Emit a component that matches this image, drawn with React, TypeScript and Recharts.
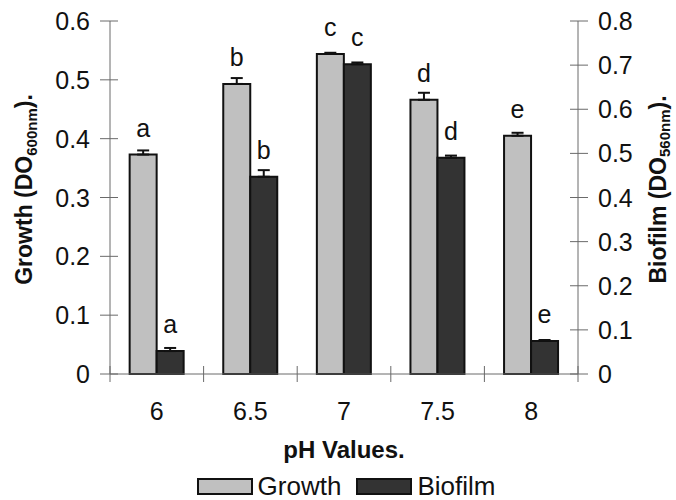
import React from 'react';
import {
  BarChart,
  Bar,
  XAxis,
  YAxis,
  ErrorBar,
  LabelList,
  Legend,
} from 'recharts';

const phValues = ['6', '6.5', '7', '7.5', '8'];
const growth = [0.373, 0.493, 0.544, 0.466, 0.405];
const growthErr = [0.007, 0.01, 0.002, 0.012, 0.005];
const biofilm = [0.052, 0.447, 0.702, 0.49, 0.075];
const biofilmErr = [0.007, 0.015, 0.004, 0.005, 0.002];
const growthLetters = ['a', 'b', 'c', 'd', 'e'];
const biofilmLetters = ['a', 'b', 'c', 'd', 'e'];
const leftTicks = [0, 0.1, 0.2, 0.3, 0.4, 0.5, 0.6];
const rightTicks = [0, 0.1, 0.2, 0.3, 0.4, 0.5, 0.6, 0.7, 0.8];

const FONT = '"Liberation Sans", Arial, sans-serif';
const AXIS = '#6a6a6a';
const GROWTH_FILL = '#c0c0c0';
const BIOFILM_FILL = '#333333';

const chartData = phValues.map((ph, i) => ({
  ph,
  growth: growth[i],
  growthErr: [0, growthErr[i]],
  growthLetter: growthLetters[i],
  biofilm: biofilm[i],
  biofilmErr: [0, biofilmErr[i]],
  biofilmLetter: biofilmLetters[i],
}));

// y ticks cross the axis line, so draw them ourselves
const LeftTick = (props: any) => {
  const { x, y, payload } = props;
  return (
    <g>
      <line x1={x + 10} x2={x + 28} y1={y} y2={y} stroke={AXIS} />
      <text x={x} y={y} dy={9} textAnchor="end" fontSize={25} fontFamily={FONT} fill="#111">
        {payload.value}
      </text>
    </g>
  );
};

const RightTick = (props: any) => {
  const { x, y, payload } = props;
  return (
    <g>
      <line x1={x - 28} x2={x - 10} y1={y} y2={y} stroke={AXIS} />
      <text x={x} y={y} dy={9} textAnchor="start" fontSize={25} fontFamily={FONT} fill="#111">
        {payload.value}
      </text>
    </g>
  );
};

// category labels, with the tick marks sitting on the band edges
const CatTick = (props: any) => {
  const { x, y, payload, index, visibleTicksCount } = props;
  const half = payload.offset || 0;
  const axisY = y - 28;
  return (
    <g>
      <line x1={x - half} x2={x - half} y1={axisY - 8} y2={axisY + 8} stroke={AXIS} />
      {index === visibleTicksCount - 1 && (
        <line x1={x + half} x2={x + half} y1={axisY - 8} y2={axisY + 8} stroke={AXIS} />
      )}
      <text x={x} y={y} dy={18} textAnchor="middle" fontSize={25} fontFamily={FONT} fill="#111">
        {payload.value}
      </text>
    </g>
  );
};

const LeftTitle = (props: any) => {
  const { viewBox } = props;
  const cx = viewBox.x - 16;
  const cy = viewBox.y + viewBox.height / 2 - 8;
  return (
    <text
      x={cx}
      y={cy}
      dy="0.35em"
      textAnchor="middle"
      transform={`rotate(-90, ${cx}, ${cy})`}
      fontSize={23}
      fontWeight="bold"
      fontFamily={FONT}
      fill="#111"
    >
      Growth (DO
      <tspan fontSize={15} dy={5}>600nm</tspan>
      <tspan dy={-5}>).</tspan>
    </text>
  );
};

const RightTitle = (props: any) => {
  const { viewBox } = props;
  const cx = viewBox.x + 80;
  const cy = viewBox.y + viewBox.height / 2 - 8;
  return (
    <text
      x={cx}
      y={cy}
      dy="0.35em"
      textAnchor="middle"
      transform={`rotate(-90, ${cx}, ${cy})`}
      fontSize={23}
      fontWeight="bold"
      fontFamily={FONT}
      fill="#111"
    >
      Biofilm (DO
      <tspan fontSize={15} dy={4}>560nm</tspan>
      <tspan dy={-4}>).</tspan>
    </text>
  );
};

const BottomTitle = (props: any) => {
  const { viewBox } = props;
  return (
    <text
      x={viewBox.x + viewBox.width / 2}
      y={458}
      textAnchor="middle"
      fontSize={24}
      fontWeight="bold"
      fontFamily={FONT}
      fill="#111"
    >
      pH Values.
    </text>
  );
};

const LegendContent = () => {
  const items = [
    { name: 'Growth', color: GROWTH_FILL },
    { name: 'Biofilm', color: BIOFILM_FILL },
  ];
  return (
    <div
      style={{
        display: 'flex',
        justifyContent: 'center',
        alignItems: 'center',
        paddingLeft: 14,
        fontFamily: FONT,
        fontSize: 26,
        color: '#111',
        height: 24,
      }}
    >
      {items.map((it, i) => (
        <div key={it.name} style={{ display: 'flex', alignItems: 'center', marginLeft: i ? 15 : 0 }}>
          <span
            style={{
              display: 'inline-block',
              width: 52,
              height: 13,
              background: it.color,
              border: '2px solid #111',
              marginRight: 5,
            }}
          />
          <span style={{ lineHeight: '24px' }}>{it.name}</span>
        </div>
      ))}
    </div>
  );
};

export default function App() {
  return (
    <div style={{ position: 'absolute', left: 0, top: 0, width: 676, height: 500, background: '#fff' }}>
      <BarChart
        width={676}
        height={500}
        data={chartData}
        margin={{ top: 21, right: 38, bottom: 2, left: 40 }}
        barCategoryGap="21%"
        barGap={0}
      >
        <XAxis
          xAxisId="cat"
          dataKey="ph"
          height={100}
          axisLine={{ stroke: AXIS }}
          tickLine={false}
          tickSize={0}
          tickMargin={28}
          interval={0}
          tick={<CatTick />}
          label={<BottomTitle />}
        />
        <XAxis
          xAxisId="top"
          orientation="top"
          dataKey="ph"
          height={0}
          tick={false}
          tickLine={false}
          axisLine={{ stroke: AXIS }}
        />
        <YAxis
          yAxisId="left"
          domain={[0, 0.6]}
          ticks={leftTicks}
          width={70}
          tickSize={10}
          tickMargin={10}
          tickLine={false}
          tick={<LeftTick />}
          axisLine={{ stroke: AXIS }}
          label={<LeftTitle />}
        />
        <YAxis
          yAxisId="right"
          orientation="right"
          domain={[0, 0.8]}
          ticks={rightTicks}
          width={60}
          tickSize={10}
          tickMargin={10}
          tickLine={false}
          tick={<RightTick />}
          axisLine={{ stroke: AXIS }}
          label={<RightTitle />}
        />
        <Legend verticalAlign="bottom" content={<LegendContent />} />
        <Bar
          xAxisId="cat"
          yAxisId="left"
          dataKey="growth"
          name="Growth"
          fill={GROWTH_FILL}
          stroke="#111"
          strokeWidth={2}
          isAnimationActive={false}
        >
          <ErrorBar dataKey="growthErr" width={6} stroke="#111" strokeWidth={2} direction="y" />
          <LabelList
            dataKey="growthLetter"
            position="top"
            offset={18}
            fontSize={25}
            fontFamily={FONT}
            fill="#111"
          />
        </Bar>
        <Bar
          xAxisId="cat"
          yAxisId="right"
          dataKey="biofilm"
          name="Biofilm"
          fill={BIOFILM_FILL}
          stroke="#111"
          strokeWidth={2}
          isAnimationActive={false}
        >
          <ErrorBar dataKey="biofilmErr" width={6} stroke="#111" strokeWidth={2} direction="y" />
          <LabelList
            dataKey="biofilmLetter"
            position="top"
            offset={18}
            fontSize={25}
            fontFamily={FONT}
            fill="#111"
          />
        </Bar>
      </BarChart>
    </div>
  );
}
